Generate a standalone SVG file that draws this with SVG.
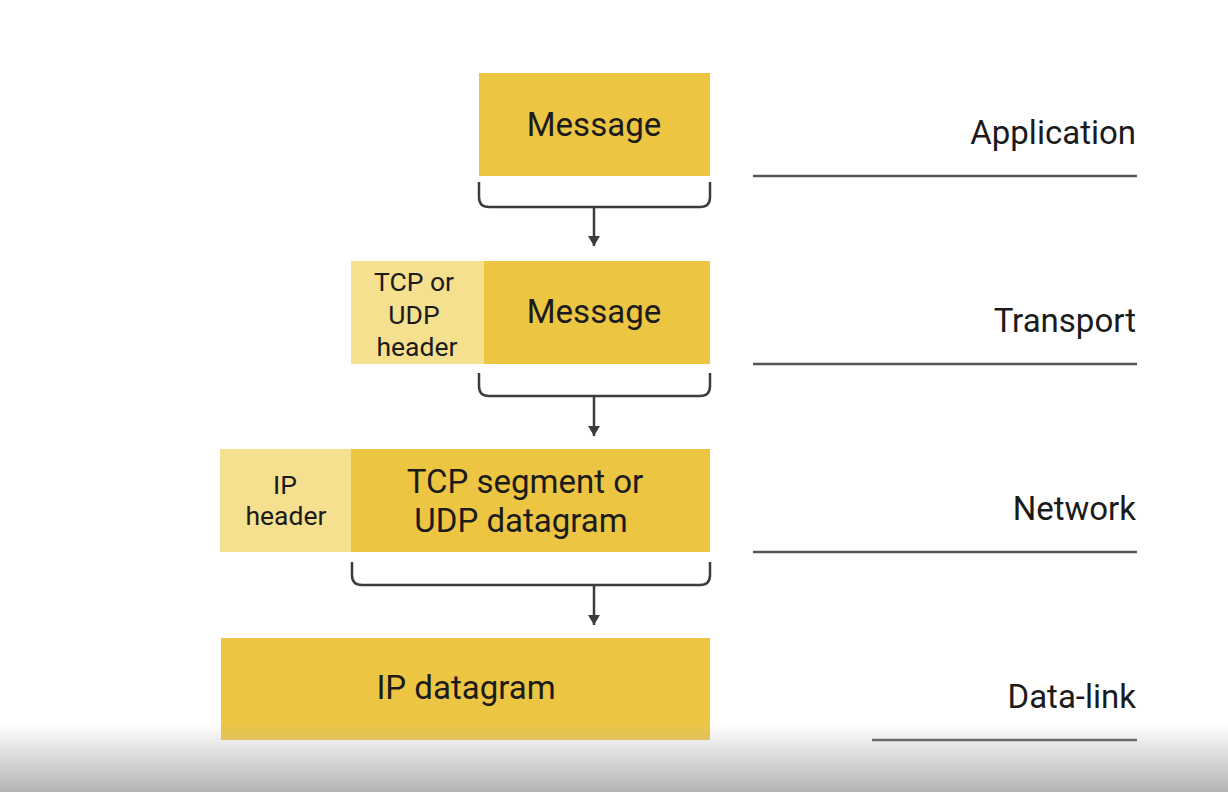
<svg xmlns="http://www.w3.org/2000/svg" width="1228" height="792" viewBox="0 0 1228 792">
  <defs>
    <marker id="arrowhead" viewBox="0 0 12 10" refX="6" refY="10" markerWidth="12" markerHeight="10" markerUnits="userSpaceOnUse" orient="0">
      <path d="M0,0 L12,0 L6,10 Z" fill="#3c3c3c"/>
    </marker>
    <linearGradient id="fade" x1="0" y1="0" x2="0" y2="1">
      <stop offset="0" stop-color="#b4b4b4" stop-opacity="0"/>
      <stop offset="1" stop-color="#b4b4b4" stop-opacity="1"/>
    </linearGradient>
    <style>
      .main { fill: #ecc643; }
      .hdr { fill: #f5e08f; }
      .big { font-family: Roboto, "Liberation Sans", sans-serif; font-size: 33px; fill: #1b1b1b; text-anchor: middle; }
      .small { font-family: Roboto, "Liberation Sans", sans-serif; font-size: 26.5px; fill: #1b1b1b; text-anchor: middle; }
      .layer { font-family: Roboto, "Liberation Sans", sans-serif; font-size: 33px; fill: #1b1b1b; text-anchor: end; }
      .rule { stroke: #555; stroke-width: 2.5; fill: none; }
      .brace { stroke: #3c3c3c; stroke-width: 2.5; fill: none; }
    </style>
  </defs>

  <rect width="1228" height="792" fill="#ffffff"/>

  <!-- Application layer -->
  <g id="app-message">
    <rect class="main" x="479" y="73" width="231" height="103"/>
    <text class="big" x="594" y="136">Message</text>
  </g>

  <!-- Transport layer -->
  <g id="transport-segment">
    <rect class="hdr" x="351" y="261" width="134" height="103"/>
    <rect class="main" x="484" y="261" width="226" height="103"/>
    <text class="small" x="414" y="291">TCP or</text>
    <text class="small" x="414" y="324">UDP</text>
    <text class="small" x="417" y="356">header</text>
    <text class="big" x="594" y="323">Message</text>
  </g>

  <!-- Network layer -->
  <g id="network-datagram">
    <rect class="hdr" x="220" y="449" width="132" height="103"/>
    <rect class="main" x="351" y="449" width="359" height="103"/>
    <text class="small" x="285" y="494">IP</text>
    <text class="small" x="286" y="525">header</text>
    <text class="big" x="525" y="493">TCP segment or</text>
    <text class="big" x="521" y="532">UDP datagram</text>
  </g>

  <!-- Data-link layer -->
  <g id="datalink-frame">
    <rect class="main" x="221" y="638" width="489" height="102"/>
    <text class="big" x="466" y="699">IP datagram</text>
  </g>

  <!-- Layer labels and rules -->
  <g id="layer-labels">
    <text class="layer" x="1136" y="144">Application</text>
    <line class="rule" x1="753" y1="176" x2="1137" y2="176"/>
    <text class="layer" x="1136" y="332">Transport</text>
    <line class="rule" x1="753" y1="364" x2="1137" y2="364"/>
    <text class="layer" x="1136" y="520">Network</text>
    <line class="rule" x1="753" y1="552" x2="1137" y2="552"/>
    <text class="layer" x="1136" y="708">Data-link</text>
    <line class="rule" x1="872" y1="740" x2="1137" y2="740"/>
  </g>

  <!-- Braces and arrows between layers -->
  <g id="connectors">
    <path class="brace" d="M479,182 V197 Q479,207 489,207 H700 Q710,207 710,197 V182"/>
    <line class="brace" x1="594" y1="207" x2="594" y2="246" marker-end="url(#arrowhead)"/>
    <path class="brace" d="M479,373 V386 Q479,396 489,396 H700 Q710,396 710,386 V373"/>
    <line class="brace" x1="594" y1="396" x2="594" y2="436" marker-end="url(#arrowhead)"/>
    <path class="brace" d="M352,562 V575 Q352,585 362,585 H700 Q710,585 710,575 V562"/>
    <line class="brace" x1="594" y1="585" x2="594" y2="625" marker-end="url(#arrowhead)"/>
  </g>

  <!-- Bottom shading -->
  <rect x="0" y="724" width="1228" height="68" fill="url(#fade)"/>
</svg>
